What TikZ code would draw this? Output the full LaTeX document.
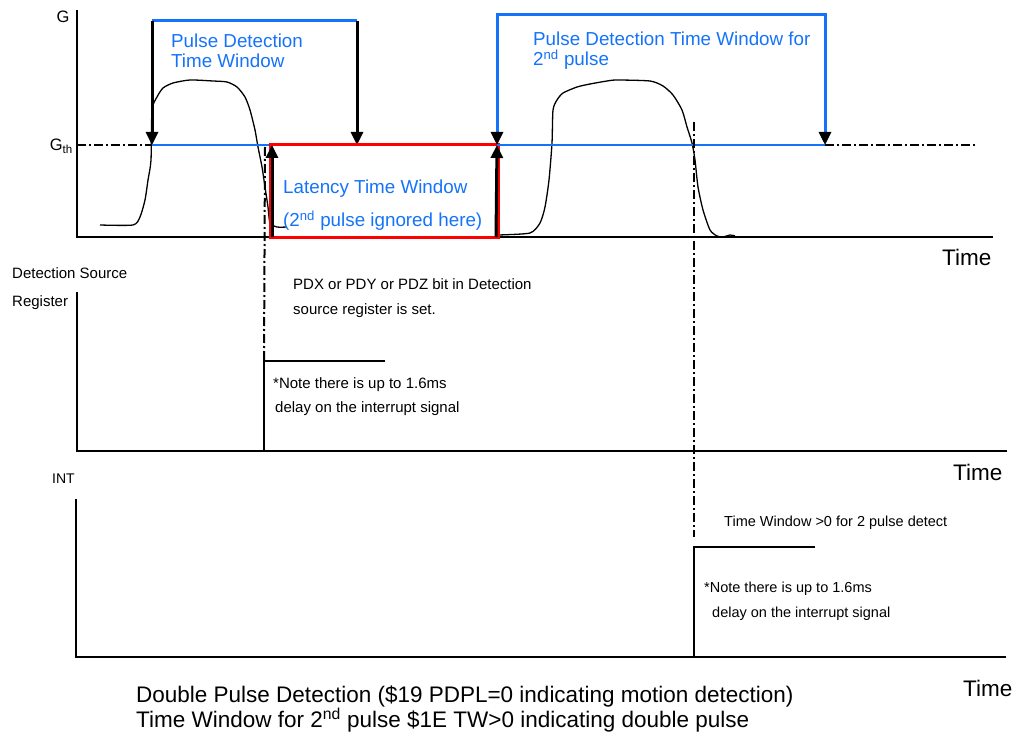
\documentclass[tikz,border=0pt]{standalone}
\usepackage{fontspec}
\setmainfont{Liberation Sans}
\usetikzlibrary{arrows.meta}
\definecolor{winblue}{RGB}{20,115,250}

\begin{document}
\begin{tikzpicture}[x=1pt,y=-1pt,>={Triangle[length=13pt,width=12pt,color=black]},
  axis/.style={line width=2pt},
  sig/.style={line width=1.3pt},
  guide/.style={line width=2pt,dash pattern=on 9pt off 3pt on 2pt off 3pt},
  win/.style={winblue,line width=3pt},
  lat/.style={red,line width=3pt},
  hit/.style={->,line width=3pt},
  txt/.style={anchor=west,inner sep=0pt,align=left,font=\fontsize{15}{25}\selectfont},
  bluetxt/.style={txt,text=winblue,font=\fontsize{18.8}{20}\selectfont},
  timetxt/.style={txt,font=\fontsize{22.5}{20}\selectfont}]
\useasboundingbox (0,0) rectangle (1014,738);

% acceleration graph
\draw[axis] (77,10) -- (77,237) -- (993,237);
\coordinate (g0) at (77,145);
\coordinate (g1) at (975,145);
\coordinate (w1l) at (152,145);
\coordinate (w1r) at (357,145);
\coordinate (lat0) at (270,145);
\coordinate (lat1) at (497,145);
\coordinate (w2r) at (825,145);
\draw[guide] (g0) -- (g1);
\draw[sig] plot[smooth,tension=0.4] coordinates {(100,225) (133,225) (140,217) (145,200)
  (148,180) (151,160) (152,110) (157,97) (163,88) (173,83) (190,80) (213,81) (227,82)
  (237,87) (245,97) (250,110) (255,130) (258,147) (262,167) (265,187) (268,207)
  (270,223) (277,227) (287,227)};
\draw[sig] plot[smooth,tension=0.4] coordinates {(497,236) (500,235) (530,233) (540,223)
  (545,207) (549,180) (552,143) (553,110) (557,100) (563,93) (577,87) (590,84) (607,81)
  (617,80) (650,81) (663,86) (673,95) (682,110) (687,127) (692,143) (695,160) (698,187)
  (703,210) (710,230) (717,236) (723,237) (730,235) (735,236)};
% windows
\draw[win] (152,21) -- (357,21);
\draw[hit] (152,21) -- (w1l);
\draw[hit] (357,21) -- (w1r);
\draw[win,line width=2.5pt] (w1l) -- (lat0);
\draw[lat] (lat0) rectangle (498,237);
\draw[hit] (272,237) -- (272,145);
\draw[hit] (496,237) -- (lat1);
\draw[win,<->] (lat1) -- (497,15) -- (825,15) -- (w2r);
\draw[win,line width=2.5pt] (lat1) -- (w2r);
\node[txt,font=\fontsize{16.5}{18}\selectfont,anchor=center] (glbl) at (63,17) {G};
\node[txt,font=\fontsize{16.5}{18}\selectfont,anchor=east] (gth) at (73,146) {G\textsubscript{th}};
\node[bluetxt] (pdtw) at (171,51) {Pulse Detection\\Time Window};
\node[bluetxt,font=\fontsize{18.8}{33}\selectfont] (ltw) at (283,205)
  {Latency Time Window\\(2\textsuperscript{nd} pulse ignored here)};
\node[bluetxt] (pdtw2) at (533,51) {Pulse Detection Time Window for\\2\textsuperscript{nd} pulse};
\node[timetxt] (t1) at (942,257) {Time};

% detection source register
\coordinate (ds0) at (264,451);
\coordinate (ds1) at (264,361);
\coordinate (ds2) at (385,361);
\draw[axis] (77,292) -- (77,451) -- (1007,451);
\draw[line width=1.5pt] (ds0) -- (ds1) -- (ds2);
\draw[guide] (265,147) -- (ds1);
\node[txt,font=\fontsize{15}{28}\selectfont] (dslbl) at (12,289) {Detection Source\\Register};
\node[txt] (pdx) at (293,298) {PDX or PDY or PDZ bit in Detection\\source register is set.};
\node[txt,font=\fontsize{15}{24}\selectfont] (note1) at (273,397)
  {*Note there is up to 1.6ms\\\hspace{2pt}delay on the interrupt signal};
\node[timetxt] (t2) at (953,472) {Time};

% interrupt
\coordinate (int0) at (694,657);
\coordinate (int1) at (694,547);
\coordinate (int2) at (815,547);
\draw[axis] (76,499) -- (76,657) -- (1006,657);
\draw[line width=1.5pt] (int0) -- (int1) -- (int2);
\draw[guide] (694,122) -- (694,537);
\node[txt,font=\fontsize{14}{16}\selectfont] (intlbl) at (52,479) {INT};
\node[txt,font=\fontsize{14.5}{16}\selectfont] (tw) at (724,523) {Time Window >0 for 2 pulse detect};
\node[txt,font=\fontsize{14.5}{25}\selectfont] (note2) at (704,601)
  {*Note there is up to 1.6ms\\\hspace{8pt}delay on the interrupt signal};
\node[timetxt] (t3) at (963,688) {Time};
\node[timetxt] (cap) at (136,709)
  {Double Pulse Detection (\$19 PDPL=0 indicating motion detection)\\Time Window for 2\textsuperscript{nd} pulse \$1E TW>0 indicating double pulse};
\end{tikzpicture}
\end{document}
